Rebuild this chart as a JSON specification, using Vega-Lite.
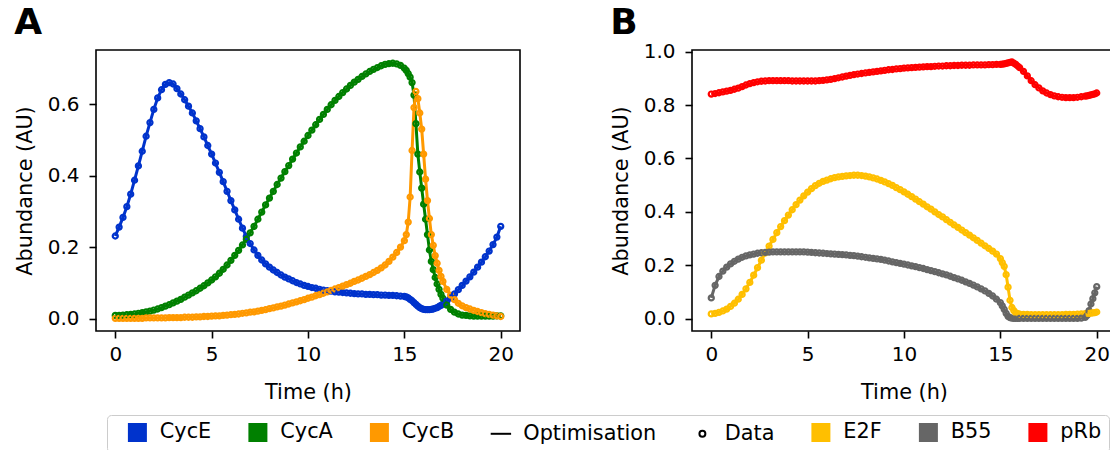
{
  "$schema": "https://vega.github.io/schema/vega-lite/v6.json",
  "padding": {"left": 13, "top": 3, "right": 0, "bottom": 0},
  "background": "white",
  "spacing": 88,
  "config": {
    "font": "DejaVu Sans",
    "view": {"stroke": "black", "strokeWidth": 1.6},
    "axis": {"grid": false, "domain": false, "tickColor": "black", "tickWidth": 1.6, "tickSize": 7, "labelFontSize": 20, "labelColor": "black", "labelFont": "DejaVu Sans", "labelPadding": 10, "titleFont": "DejaVu Sans", "titleFontSize": 20.8, "titleFontWeight": "normal", "titleColor": "black", "labelFlush": false, "labelOverlap": false},
    "axisY": {"titlePadding": 12},
    "axisX": {"titlePadding": 18, "labelPadding": 6},
    "title": {"fontSize": 36, "fontWeight": "bold", "anchor": "start", "frame": "bounds", "color": "black", "font": "DejaVu Sans"},
    "legend": {"labelFont": "DejaVu Sans", "labelFontSize": 20.8, "labelColor": "black"}
  },
  "datasets": {
    "a": [
      {"t":0,"CycE":0.231,"CycA":0.009,"CycB":0.001},
      {"t":0.2,"CycE":0.256,"CycA":0.009,"CycB":0.001},
      {"t":0.4,"CycE":0.283,"CycA":0.010,"CycB":0.001},
      {"t":0.6,"CycE":0.313,"CycA":0.011,"CycB":0.001},
      {"t":0.8,"CycE":0.348,"CycA":0.012,"CycB":0.001},
      {"t":1.0,"CycE":0.387,"CycA":0.013,"CycB":0.001},
      {"t":1.2,"CycE":0.427,"CycA":0.015,"CycB":0.001},
      {"t":1.4,"CycE":0.468,"CycA":0.017,"CycB":0.001},
      {"t":1.6,"CycE":0.510,"CycA":0.019,"CycB":0.002},
      {"t":1.8,"CycE":0.548,"CycA":0.021,"CycB":0.002},
      {"t":2.0,"CycE":0.585,"CycA":0.024,"CycB":0.002},
      {"t":2.2,"CycE":0.617,"CycA":0.027,"CycB":0.002},
      {"t":2.4,"CycE":0.640,"CycA":0.031,"CycB":0.002},
      {"t":2.6,"CycE":0.655,"CycA":0.035,"CycB":0.002},
      {"t":2.8,"CycE":0.660,"CycA":0.039,"CycB":0.003},
      {"t":3.0,"CycE":0.656,"CycA":0.044,"CycB":0.003},
      {"t":3.2,"CycE":0.643,"CycA":0.049,"CycB":0.003},
      {"t":3.4,"CycE":0.628,"CycA":0.054,"CycB":0.003},
      {"t":3.6,"CycE":0.612,"CycA":0.060,"CycB":0.004},
      {"t":3.8,"CycE":0.594,"CycA":0.066,"CycB":0.004},
      {"t":4.0,"CycE":0.575,"CycA":0.072,"CycB":0.004},
      {"t":4.2,"CycE":0.553,"CycA":0.078,"CycB":0.005},
      {"t":4.4,"CycE":0.531,"CycA":0.085,"CycB":0.005},
      {"t":4.6,"CycE":0.508,"CycA":0.092,"CycB":0.006},
      {"t":4.8,"CycE":0.484,"CycA":0.100,"CycB":0.006},
      {"t":5.0,"CycE":0.460,"CycA":0.108,"CycB":0.007},
      {"t":5.2,"CycE":0.435,"CycA":0.117,"CycB":0.008},
      {"t":5.4,"CycE":0.409,"CycA":0.127,"CycB":0.008},
      {"t":5.6,"CycE":0.383,"CycA":0.138,"CycB":0.009},
      {"t":5.8,"CycE":0.356,"CycA":0.150,"CycB":0.010},
      {"t":6.0,"CycE":0.330,"CycA":0.163,"CycB":0.011},
      {"t":6.2,"CycE":0.304,"CycA":0.177,"CycB":0.012},
      {"t":6.4,"CycE":0.278,"CycA":0.191,"CycB":0.013},
      {"t":6.6,"CycE":0.253,"CycA":0.206,"CycB":0.015},
      {"t":6.8,"CycE":0.230,"CycA":0.222,"CycB":0.016},
      {"t":7.0,"CycE":0.210,"CycA":0.240,"CycB":0.018},
      {"t":7.2,"CycE":0.192,"CycA":0.258,"CycB":0.019},
      {"t":7.4,"CycE":0.177,"CycA":0.278,"CycB":0.021},
      {"t":7.6,"CycE":0.164,"CycA":0.298,"CycB":0.023},
      {"t":7.8,"CycE":0.153,"CycA":0.318,"CycB":0.025},
      {"t":8.0,"CycE":0.144,"CycA":0.337,"CycB":0.028},
      {"t":8.2,"CycE":0.136,"CycA":0.356,"CycB":0.030},
      {"t":8.4,"CycE":0.129,"CycA":0.375,"CycB":0.033},
      {"t":8.6,"CycE":0.122,"CycA":0.393,"CycB":0.035},
      {"t":8.8,"CycE":0.116,"CycA":0.411,"CycB":0.038},
      {"t":9.0,"CycE":0.111,"CycA":0.428,"CycB":0.041},
      {"t":9.2,"CycE":0.106,"CycA":0.446,"CycB":0.044},
      {"t":9.4,"CycE":0.101,"CycA":0.463,"CycB":0.047},
      {"t":9.6,"CycE":0.097,"CycA":0.480,"CycB":0.050},
      {"t":9.8,"CycE":0.093,"CycA":0.496,"CycB":0.053},
      {"t":10.0,"CycE":0.090,"CycA":0.512,"CycB":0.057},
      {"t":10.2,"CycE":0.087,"CycA":0.527,"CycB":0.060},
      {"t":10.4,"CycE":0.085,"CycA":0.542,"CycB":0.064},
      {"t":10.6,"CycE":0.082,"CycA":0.557,"CycB":0.067},
      {"t":10.8,"CycE":0.080,"CycA":0.571,"CycB":0.071},
      {"t":11.0,"CycE":0.078,"CycA":0.585,"CycB":0.075},
      {"t":11.2,"CycE":0.077,"CycA":0.598,"CycB":0.079},
      {"t":11.4,"CycE":0.075,"CycA":0.610,"CycB":0.083},
      {"t":11.6,"CycE":0.074,"CycA":0.621,"CycB":0.087},
      {"t":11.8,"CycE":0.073,"CycA":0.632,"CycB":0.091},
      {"t":12.0,"CycE":0.072,"CycA":0.642,"CycB":0.095},
      {"t":12.2,"CycE":0.071,"CycA":0.652,"CycB":0.099},
      {"t":12.4,"CycE":0.070,"CycA":0.661,"CycB":0.104},
      {"t":12.6,"CycE":0.069,"CycA":0.669,"CycB":0.108},
      {"t":12.8,"CycE":0.069,"CycA":0.677,"CycB":0.113},
      {"t":13.0,"CycE":0.068,"CycA":0.684,"CycB":0.118},
      {"t":13.2,"CycE":0.068,"CycA":0.691,"CycB":0.123},
      {"t":13.4,"CycE":0.067,"CycA":0.697,"CycB":0.129},
      {"t":13.6,"CycE":0.067,"CycA":0.702,"CycB":0.135},
      {"t":13.8,"CycE":0.066,"CycA":0.707,"CycB":0.142},
      {"t":14.0,"CycE":0.066,"CycA":0.711,"CycB":0.150},
      {"t":14.2,"CycE":0.065,"CycA":0.713,"CycB":0.160},
      {"t":14.4,"CycE":0.065,"CycA":0.714,"CycB":0.172},
      {"t":14.6,"CycE":0.064,"CycA":0.712,"CycB":0.185},
      {"t":14.8,"CycE":0.063,"CycA":0.708,"CycB":0.200},
      {"t":15.0,"CycE":0.062,"CycA":0.700,"CycB":0.218},
      {"t":15.1,"CycE":0.061,"CycA":0.694,"CycB":0.235},
      {"t":15.2,"CycE":0.058,"CycA":0.685,"CycB":0.270},
      {"t":15.3,"CycE":0.054,"CycA":0.675,"CycB":0.340},
      {"t":15.4,"CycE":0.050,"CycA":0.660,"CycB":0.470},
      {"t":15.5,"CycE":0.045,"CycA":0.625,"CycB":0.590},
      {"t":15.6,"CycE":0.040,"CycA":0.545,"CycB":0.635},
      {"t":15.7,"CycE":0.035,"CycA":0.460,"CycB":0.615},
      {"t":15.8,"CycE":0.031,"CycA":0.410,"CycB":0.575},
      {"t":15.9,"CycE":0.028,"CycA":0.365,"CycB":0.530},
      {"t":16.0,"CycE":0.026,"CycA":0.320,"CycB":0.460},
      {"t":16.1,"CycE":0.025,"CycA":0.278,"CycB":0.390},
      {"t":16.2,"CycE":0.025,"CycA":0.235,"CycB":0.330},
      {"t":16.3,"CycE":0.025,"CycA":0.192,"CycB":0.280},
      {"t":16.4,"CycE":0.026,"CycA":0.160,"CycB":0.235},
      {"t":16.5,"CycE":0.027,"CycA":0.137,"CycB":0.205},
      {"t":16.6,"CycE":0.029,"CycA":0.115,"CycB":0.176},
      {"t":16.7,"CycE":0.031,"CycA":0.097,"CycB":0.155},
      {"t":16.8,"CycE":0.034,"CycA":0.082,"CycB":0.135},
      {"t":16.9,"CycE":0.037,"CycA":0.068,"CycB":0.118},
      {"t":17.0,"CycE":0.041,"CycA":0.057,"CycB":0.104},
      {"t":17.2,"CycE":0.049,"CycA":0.038,"CycB":0.082},
      {"t":17.4,"CycE":0.058,"CycA":0.026,"CycB":0.066},
      {"t":17.6,"CycE":0.069,"CycA":0.018,"CycB":0.053},
      {"t":17.8,"CycE":0.081,"CycA":0.013,"CycB":0.043},
      {"t":18.0,"CycE":0.093,"CycA":0.010,"CycB":0.036},
      {"t":18.2,"CycE":0.105,"CycA":0.009,"CycB":0.031},
      {"t":18.4,"CycE":0.117,"CycA":0.008,"CycB":0.027},
      {"t":18.6,"CycE":0.130,"CycA":0.007,"CycB":0.023},
      {"t":18.8,"CycE":0.144,"CycA":0.007,"CycB":0.020},
      {"t":19.0,"CycE":0.158,"CycA":0.007,"CycB":0.017},
      {"t":19.2,"CycE":0.173,"CycA":0.007,"CycB":0.014},
      {"t":19.4,"CycE":0.189,"CycA":0.007,"CycB":0.012},
      {"t":19.6,"CycE":0.207,"CycA":0.007,"CycB":0.010},
      {"t":19.8,"CycE":0.228,"CycA":0.008,"CycB":0.008},
      {"t":20.0,"CycE":0.258,"CycA":0.008,"CycB":0.006}
    ],
    "b": [
      {"t":0,"E2F":0.018,"B55":0.078,"pRb":0.841},
      {"t":0.2,"E2F":0.020,"B55":0.125,"pRb":0.843},
      {"t":0.4,"E2F":0.024,"B55":0.158,"pRb":0.846},
      {"t":0.6,"E2F":0.029,"B55":0.178,"pRb":0.849},
      {"t":0.8,"E2F":0.036,"B55":0.193,"pRb":0.852},
      {"t":1.0,"E2F":0.046,"B55":0.205,"pRb":0.855},
      {"t":1.2,"E2F":0.058,"B55":0.215,"pRb":0.859},
      {"t":1.4,"E2F":0.073,"B55":0.223,"pRb":0.863},
      {"t":1.6,"E2F":0.091,"B55":0.230,"pRb":0.869},
      {"t":1.8,"E2F":0.112,"B55":0.235,"pRb":0.875},
      {"t":2.0,"E2F":0.136,"B55":0.239,"pRb":0.880},
      {"t":2.2,"E2F":0.163,"B55":0.242,"pRb":0.884},
      {"t":2.4,"E2F":0.191,"B55":0.245,"pRb":0.887},
      {"t":2.6,"E2F":0.219,"B55":0.247,"pRb":0.889},
      {"t":2.8,"E2F":0.246,"B55":0.248,"pRb":0.890},
      {"t":3.0,"E2F":0.272,"B55":0.249,"pRb":0.891},
      {"t":3.2,"E2F":0.297,"B55":0.250,"pRb":0.891},
      {"t":3.4,"E2F":0.322,"B55":0.250,"pRb":0.891},
      {"t":3.6,"E2F":0.345,"B55":0.250,"pRb":0.891},
      {"t":3.8,"E2F":0.367,"B55":0.250,"pRb":0.891},
      {"t":4.0,"E2F":0.388,"B55":0.250,"pRb":0.891},
      {"t":4.2,"E2F":0.408,"B55":0.250,"pRb":0.890},
      {"t":4.4,"E2F":0.427,"B55":0.250,"pRb":0.890},
      {"t":4.6,"E2F":0.444,"B55":0.250,"pRb":0.890},
      {"t":4.8,"E2F":0.460,"B55":0.250,"pRb":0.890},
      {"t":5.0,"E2F":0.474,"B55":0.249,"pRb":0.890},
      {"t":5.2,"E2F":0.487,"B55":0.248,"pRb":0.890},
      {"t":5.4,"E2F":0.498,"B55":0.247,"pRb":0.890},
      {"t":5.6,"E2F":0.507,"B55":0.246,"pRb":0.891},
      {"t":5.8,"E2F":0.514,"B55":0.245,"pRb":0.892},
      {"t":6.0,"E2F":0.519,"B55":0.244,"pRb":0.894},
      {"t":6.2,"E2F":0.524,"B55":0.243,"pRb":0.896},
      {"t":6.4,"E2F":0.528,"B55":0.242,"pRb":0.899},
      {"t":6.6,"E2F":0.531,"B55":0.241,"pRb":0.902},
      {"t":6.8,"E2F":0.533,"B55":0.240,"pRb":0.905},
      {"t":7.0,"E2F":0.535,"B55":0.239,"pRb":0.908},
      {"t":7.2,"E2F":0.536,"B55":0.237,"pRb":0.911},
      {"t":7.4,"E2F":0.537,"B55":0.236,"pRb":0.914},
      {"t":7.6,"E2F":0.537,"B55":0.234,"pRb":0.916},
      {"t":7.8,"E2F":0.536,"B55":0.232,"pRb":0.918},
      {"t":8.0,"E2F":0.534,"B55":0.230,"pRb":0.920},
      {"t":8.2,"E2F":0.531,"B55":0.228,"pRb":0.922},
      {"t":8.4,"E2F":0.527,"B55":0.226,"pRb":0.924},
      {"t":8.6,"E2F":0.523,"B55":0.224,"pRb":0.926},
      {"t":8.8,"E2F":0.518,"B55":0.222,"pRb":0.928},
      {"t":9.0,"E2F":0.512,"B55":0.219,"pRb":0.930},
      {"t":9.2,"E2F":0.506,"B55":0.216,"pRb":0.932},
      {"t":9.4,"E2F":0.499,"B55":0.213,"pRb":0.933},
      {"t":9.6,"E2F":0.491,"B55":0.210,"pRb":0.935},
      {"t":9.8,"E2F":0.483,"B55":0.207,"pRb":0.936},
      {"t":10.0,"E2F":0.475,"B55":0.204,"pRb":0.938},
      {"t":10.2,"E2F":0.466,"B55":0.201,"pRb":0.939},
      {"t":10.4,"E2F":0.457,"B55":0.198,"pRb":0.940},
      {"t":10.6,"E2F":0.448,"B55":0.195,"pRb":0.941},
      {"t":10.8,"E2F":0.438,"B55":0.191,"pRb":0.942},
      {"t":11.0,"E2F":0.429,"B55":0.188,"pRb":0.943},
      {"t":11.2,"E2F":0.419,"B55":0.184,"pRb":0.944},
      {"t":11.4,"E2F":0.410,"B55":0.180,"pRb":0.944},
      {"t":11.6,"E2F":0.400,"B55":0.176,"pRb":0.945},
      {"t":11.8,"E2F":0.390,"B55":0.172,"pRb":0.946},
      {"t":12.0,"E2F":0.381,"B55":0.168,"pRb":0.946},
      {"t":12.2,"E2F":0.371,"B55":0.164,"pRb":0.947},
      {"t":12.4,"E2F":0.361,"B55":0.159,"pRb":0.947},
      {"t":12.6,"E2F":0.351,"B55":0.154,"pRb":0.948},
      {"t":12.8,"E2F":0.342,"B55":0.149,"pRb":0.948},
      {"t":13.0,"E2F":0.332,"B55":0.144,"pRb":0.949},
      {"t":13.2,"E2F":0.322,"B55":0.138,"pRb":0.949},
      {"t":13.4,"E2F":0.313,"B55":0.132,"pRb":0.949},
      {"t":13.6,"E2F":0.303,"B55":0.126,"pRb":0.950},
      {"t":13.8,"E2F":0.293,"B55":0.119,"pRb":0.950},
      {"t":14.0,"E2F":0.283,"B55":0.112,"pRb":0.950},
      {"t":14.2,"E2F":0.273,"B55":0.104,"pRb":0.950},
      {"t":14.4,"E2F":0.263,"B55":0.095,"pRb":0.951},
      {"t":14.6,"E2F":0.253,"B55":0.085,"pRb":0.951},
      {"t":14.8,"E2F":0.242,"B55":0.073,"pRb":0.952},
      {"t":15.0,"E2F":0.225,"B55":0.060,"pRb":0.952},
      {"t":15.1,"E2F":0.210,"B55":0.048,"pRb":0.953},
      {"t":15.2,"E2F":0.196,"B55":0.035,"pRb":0.954},
      {"t":15.3,"E2F":0.165,"B55":0.020,"pRb":0.956},
      {"t":15.4,"E2F":0.118,"B55":0.009,"pRb":0.958},
      {"t":15.5,"E2F":0.069,"B55":0.004,"pRb":0.960},
      {"t":15.6,"E2F":0.042,"B55":0.002,"pRb":0.961},
      {"t":15.7,"E2F":0.030,"B55":0.001,"pRb":0.957},
      {"t":15.8,"E2F":0.022,"B55":0.001,"pRb":0.952},
      {"t":15.9,"E2F":0.019,"B55":0.001,"pRb":0.946},
      {"t":16.0,"E2F":0.017,"B55":0.001,"pRb":0.940},
      {"t":16.2,"E2F":0.016,"B55":0.001,"pRb":0.926},
      {"t":16.4,"E2F":0.016,"B55":0.001,"pRb":0.909},
      {"t":16.6,"E2F":0.015,"B55":0.001,"pRb":0.891},
      {"t":16.8,"E2F":0.015,"B55":0.001,"pRb":0.876},
      {"t":17.0,"E2F":0.015,"B55":0.001,"pRb":0.864},
      {"t":17.2,"E2F":0.015,"B55":0.001,"pRb":0.853},
      {"t":17.4,"E2F":0.015,"B55":0.001,"pRb":0.845},
      {"t":17.6,"E2F":0.015,"B55":0.001,"pRb":0.839},
      {"t":17.8,"E2F":0.015,"B55":0.001,"pRb":0.834},
      {"t":18.0,"E2F":0.015,"B55":0.001,"pRb":0.831},
      {"t":18.2,"E2F":0.015,"B55":0.001,"pRb":0.829},
      {"t":18.4,"E2F":0.016,"B55":0.001,"pRb":0.828},
      {"t":18.6,"E2F":0.016,"B55":0.001,"pRb":0.828},
      {"t":18.8,"E2F":0.016,"B55":0.001,"pRb":0.828},
      {"t":19.0,"E2F":0.017,"B55":0.001,"pRb":0.829},
      {"t":19.2,"E2F":0.018,"B55":0.002,"pRb":0.831},
      {"t":19.4,"E2F":0.019,"B55":0.005,"pRb":0.833},
      {"t":19.5,"E2F":0.019,"B55":0.012,"pRb":0.834},
      {"t":19.6,"E2F":0.020,"B55":0.030,"pRb":0.836},
      {"t":19.7,"E2F":0.021,"B55":0.055,"pRb":0.838},
      {"t":19.8,"E2F":0.022,"B55":0.075,"pRb":0.840},
      {"t":19.9,"E2F":0.023,"B55":0.097,"pRb":0.842},
      {"t":20.0,"E2F":0.025,"B55":0.120,"pRb":0.845}
    ]
  },
  "hconcat": [
    {
      "title": {"text": "A", "offset": 8},
      "width": 424,
      "height": 281,
      "data": {"name": "a"},
      "transform": [{"fold": ["CycE", "CycA", "CycB"], "as": ["s", "v"]}],
      "encoding": {
        "x": {"field": "t", "type": "quantitative", "scale": {"domain": [-1, 21], "nice": false, "zero": false}, "axis": {"values": [0, 5, 10, 15, 20], "title": "Time (h)"}},
        "y": {"field": "v", "type": "quantitative", "scale": {"domain": [-0.0345, 0.751], "nice": false, "zero": false}, "axis": {"values": [0, 0.2, 0.4, 0.6], "format": ".1f", "title": "Abundance (AU)"}},
        "color": {
          "field": "s", "type": "nominal",
          "scale": {"domain": ["CycE", "CycA", "CycB", "Optimisation", "Data", "E2F", "B55", "pRb"], "range": ["#0033cc", "#008000", "#ff9900", "#000000", "#000000", "#ffbf00", "#666666", "#ff0000"]},
          "legend": {
            "orient": "none", "legendX": 11, "legendY": 365, "direction": "horizontal", "columns": 8, "title": null,
            "symbolSize": 289, "symbolOffset": 13, "labelOffset": 12, "columnPadding": 22.5, "padding": 7,
            "strokeColor": "#cccccc", "fillColor": "white", "cornerRadius": 4,
            "encode": {"symbols": {"update": {
              "shape": {"signal": "datum.value === 'Optimisation' ? 'M -1.2 0 L 1.2 0' : datum.value === 'Data' ? 'M 0.35 0 A 0.35 0.35 0 1 1 -0.35 0 A 0.35 0.35 0 1 1 0.35 0 Z' : 'square'"},
              "fill": {"signal": "datum.value === 'Optimisation' || datum.value === 'Data' ? 'transparent' : scale('color', datum.value)"},
              "stroke": {"signal": "datum.value === 'Optimisation' || datum.value === 'Data' ? '#000000' : scale('color', datum.value)"},
              "strokeWidth": {"value": 2},
              "opacity": {"value": 1}
            }}}
          }
        }
      },
      "layer": [
        {"mark": {"type": "line", "strokeWidth": 3}},
        {"mark": {"type": "point", "filled": false, "size": 26, "strokeWidth": 2.2, "opacity": 1}}
      ]
    },
    {
      "title": {"text": "B", "offset": 0},
      "width": 424,
      "height": 281,
      "data": {"name": "b"},
      "transform": [{"fold": ["E2F", "B55", "pRb"], "as": ["s", "v"]}],
      "encoding": {
        "x": {"field": "t", "type": "quantitative", "scale": {"domain": [-1, 21], "nice": false, "zero": false}, "axis": {"values": [0, 5, 10, 15, 20], "title": "Time (h)"}},
        "y": {"field": "v", "type": "quantitative", "scale": {"domain": [-0.046, 1.006], "nice": false, "zero": false}, "axis": {"values": [0, 0.2, 0.4, 0.6, 0.8, 1.0], "format": ".1f", "title": "Abundance (AU)"}},
        "color": {
          "field": "s", "type": "nominal",
          "scale": {"domain": ["CycE", "CycA", "CycB", "Optimisation", "Data", "E2F", "B55", "pRb"], "range": ["#0033cc", "#008000", "#ff9900", "#000000", "#000000", "#ffbf00", "#666666", "#ff0000"]},
          "legend": {
            "orient": "none", "legendX": 11, "legendY": 365, "direction": "horizontal", "columns": 8, "title": null,
            "symbolSize": 289, "symbolOffset": 13, "labelOffset": 12, "columnPadding": 22.5, "padding": 7,
            "strokeColor": "#cccccc", "fillColor": "white", "cornerRadius": 4,
            "encode": {"symbols": {"update": {
              "shape": {"signal": "datum.value === 'Optimisation' ? 'M -1.2 0 L 1.2 0' : datum.value === 'Data' ? 'M 0.35 0 A 0.35 0.35 0 1 1 -0.35 0 A 0.35 0.35 0 1 1 0.35 0 Z' : 'square'"},
              "fill": {"signal": "datum.value === 'Optimisation' || datum.value === 'Data' ? 'transparent' : scale('color', datum.value)"},
              "stroke": {"signal": "datum.value === 'Optimisation' || datum.value === 'Data' ? '#000000' : scale('color', datum.value)"},
              "strokeWidth": {"value": 2},
              "opacity": {"value": 1}
            }}}
          }
        }
      },
      "layer": [
        {"mark": {"type": "line", "strokeWidth": 3}},
        {"mark": {"type": "point", "filled": false, "size": 26, "strokeWidth": 2.2, "opacity": 1}}
      ]
    }
  ],
  "resolve": {"scale": {"color": "shared"}}
}
